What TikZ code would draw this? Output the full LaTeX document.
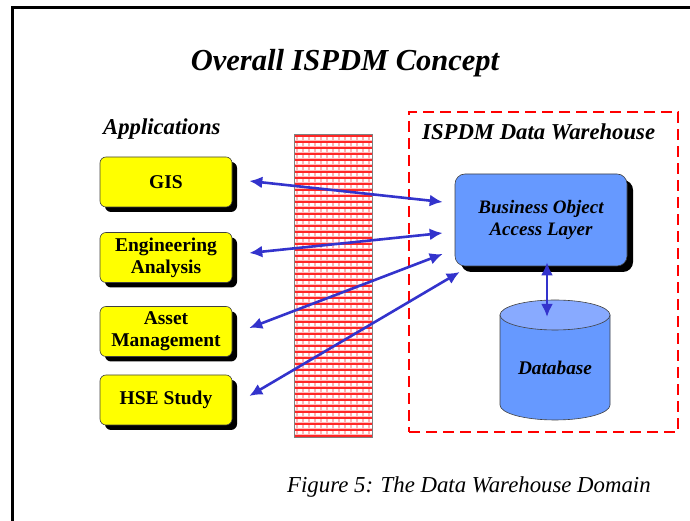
\documentclass[tikz,border=0pt]{standalone}
\usepackage{fontspec}
\setmainfont{Liberation Serif}
\usetikzlibrary{arrows.meta,shadows}
\definecolor{appyellow}{HTML}{FFFF00}
\definecolor{boblue}{HTML}{6699FF}
\definecolor{dblight}{HTML}{88AAFF}
\definecolor{arrblue}{HTML}{3333CC}
\begin{document}
\begin{tikzpicture}[x=1pt,y=1pt,
  appbox/.style={draw=black!75, line width=0.6pt, fill=appyellow, rounded corners=6pt,
    minimum width=132pt, minimum height=50pt, inner sep=2pt, align=center,
    font=\fontsize{19.5}{22}\selectfont\bfseries,
    drop shadow={shadow xshift=5pt, shadow yshift=-5pt, opacity=1, fill=black}},
  bobox/.style={draw=black!75, line width=0.6pt, fill=boblue, rounded corners=10pt,
    minimum width=172pt, minimum height=92pt, align=center,
    font=\fontsize{19}{22}\selectfont\bfseries\itshape,
    drop shadow={shadow xshift=6pt, shadow yshift=-6pt, opacity=1, fill=black}},
  dwbox/.style={draw=red, line width=2.8pt, dash pattern=on 11pt off 6pt},
  hdr/.style={font=\fontsize{22.7}{26}\selectfont\bfseries\itshape, inner sep=0pt},
  arr/.style={draw=arrblue, line width=2.6pt, {Latex[length=13pt,width=12pt]}-{Latex[length=13pt,width=12pt]}}
]
\useasboundingbox (0,0) rectangle (690,521);
% frame
\draw[line width=2.2pt] (12.5,0) -- (12.5,513.5) -- (690,513.5);
% title
\node[font=\fontsize{30.5}{34}\selectfont\bfseries\itshape, anchor=base, inner sep=0pt] (title) at (345,450) {Overall ISPDM Concept};
\node[hdr, anchor=base west] (apps) at (103,386) {Applications};
% brick wall
\begin{scope}
  \clip (294,83) rectangle (372,386);
  \foreach \x in {297,303,...,372} \draw[red!30, line width=1.6pt] (\x,83) -- (\x,386);
  \foreach \y in {85,91,...,386} {
    \draw[red!25, line width=1pt] (294,\y+1.8) -- (372,\y+1.8);
    \draw[red!85, line width=1.6pt] (294,\y) -- (372,\y);
  }
\end{scope}
\node[draw=gray, line width=1pt, minimum width=78pt, minimum height=303pt, inner sep=0pt] (wall) at (333,234.5) {};
% data warehouse region
\node[dwbox, minimum width=269pt, minimum height=320pt, inner sep=0pt] (dw) at (543.5,249) {};
\node[hdr, anchor=base west] (dwlabel) at (422,381) {ISPDM Data Warehouse};
% application boxes
\node[appbox] (gis) at (166,339) {GIS};
\node[appbox] (eng) at (166,263.5) {Engineering\\Analysis};
\node[appbox] (asset) at (166,189.5) {Asset\\Management};
\node[appbox] (hse) at (166,121) {HSE Study};
% business object layer
\node[bobox] (bo) at (541,301) {Business Object\\Access Layer};
% database cylinder
\filldraw[fill=boblue, draw=black!75, line width=0.6pt] (500,206) -- (500,116)
  arc[start angle=180, end angle=360, x radius=55, y radius=15] -- (610,206) -- cycle;
\filldraw[fill=dblight, draw=black!75, line width=0.6pt] (555,206) ellipse [x radius=55, y radius=15];
\node[font=\fontsize{19.3}{22}\selectfont\bfseries\itshape] (db) at (555,153) {Database};
\coordinate (dbtop) at (547,204);
% connectors
\draw[arr] ([xshift=17pt,yshift=1pt]gis.east) -- ([xshift=-12pt,yshift=18pt]bo.west);
\draw[arr] ([xshift=17pt,yshift=4.5pt]eng.east) -- ([xshift=-12pt,yshift=-13pt]bo.west);
\draw[arr] ([xshift=17pt,yshift=3.5pt]asset.east) -- ([xshift=-12pt,yshift=-34pt]bo.west);
\draw[arr] ([xshift=17pt,yshift=4pt]hse.east) -- ([xshift=5pt,yshift=-52pt]bo.west);
\draw[arr] ([xshift=6pt,yshift=4pt]bo.south) -- (dbtop);
% caption
\node[font=\fontsize{22.8}{26}\selectfont\itshape, anchor=base west, inner sep=0pt] (caption) at (287,28) {Figure 5: The Data Warehouse Domain};
\end{tikzpicture}
\end{document}
